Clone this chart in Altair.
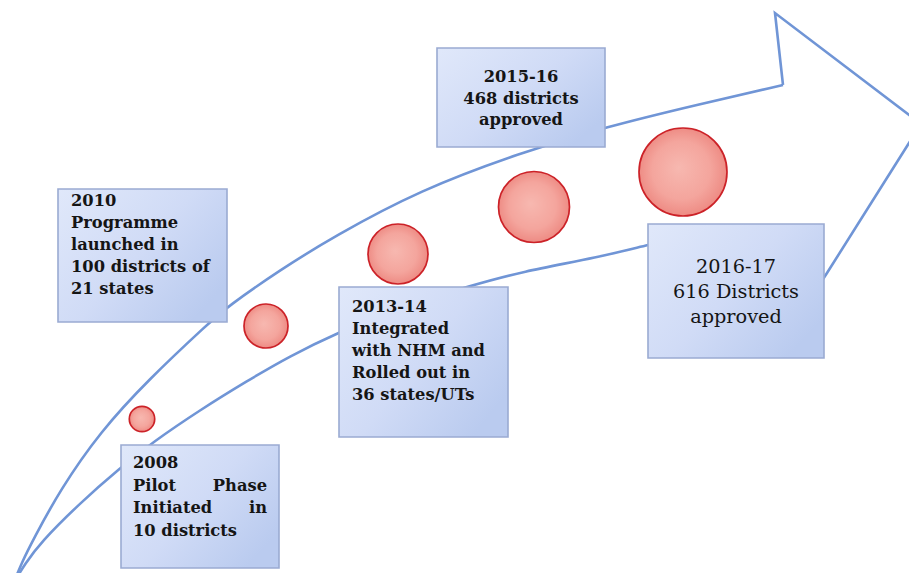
import altair as alt
import pandas as pd

# ---------------- data (page pixel units) ----------------
# milestone boxes
box_year = ["2008", "2010", "2013-14", "2015-16", "2016-17"]
box_x0 = [121, 58, 339, 437, 648]
box_x1 = [279, 227, 508, 605, 824]
box_y0 = [445, 189, 287, 48, 224]
box_y1 = [568, 322, 437, 147, 358]
box_lines = [
    ["2008", "Pilot Phase", "Initiated in", "10 districts"],
    ["2010", "Programme", "launched in", "100 districts of", "21 states"],
    ["2013-14", "Integrated", "with NHM and", "Rolled out in", "36 states/UTs"],
    ["2015-16", "468 districts", "approved"],
    ["2016-17", "616 Districts", "approved"],
]
box_align = ["justify", "left", "left", "center", "center"]
box_bold = [True, True, True, True, False]
box_first_line = [463, 201, 307, 77, 267]
box_line_gap = [22.5, 22, 22, 21.5, 25]
box_pad = [12, 13, 13, 0, 0]

# growing circles
circle_x = [142, 266, 398, 534, 683]
circle_y = [419, 326, 254, 207, 172]
circle_r = [12.7, 22, 30, 35.5, 44]

# arrow outline
upper_x = [14, 22, 33, 60, 100, 148, 210, 227, 280, 333, 420, 520, 605, 700, 783]
upper_y = [582, 562, 540, 490, 432, 380, 322, 307, 270, 237, 190, 153, 127, 104, 85]
lower_x = [14, 25, 40, 80, 120, 153, 200, 247, 290, 337, 400, 473, 520, 600, 647, 700]
lower_y = [582, 564, 543, 503, 468, 442, 410, 381, 356, 333, 307, 285, 272, 257, 245, 233]
head_x = [783, 775, 921, 827, 790]
head_y = [85, 13, 124, 273, 330]

# ---------------- tables ----------------
boxes = pd.DataFrame({"year": box_year, "x0": box_x0, "x1": box_x1,
                      "y0": box_y0, "y1": box_y1})
circles = pd.DataFrame({"x": circle_x, "y": circle_y,
                        "size": [(2 * r) ** 2 for r in circle_r]})
curves = pd.DataFrame({
    "x": upper_x + lower_x,
    "y": upper_y + lower_y,
    "seg": ["upper"] * len(upper_x) + ["lower"] * len(lower_x),
})
head = pd.DataFrame({"x": head_x, "y": head_y, "o": list(range(len(head_x)))})

rows = []
for i, lines in enumerate(box_lines):
    for j, line in enumerate(lines):
        y = box_first_line[i] + j * box_line_gap[i]
        mode = box_align[i]
        words = line.split(" ")
        if mode == "justify" and len(words) > 1 and j < len(lines) - 1:
            rows.append(dict(text=" ".join(words[:-1]), x=box_x0[i] + box_pad[i], y=y,
                             al="left", bold=box_bold[i]))
            rows.append(dict(text=words[-1], x=box_x1[i] - box_pad[i], y=y,
                             al="right", bold=box_bold[i]))
        elif mode == "center":
            rows.append(dict(text=line, x=(box_x0[i] + box_x1[i]) / 2, y=y,
                             al="center", bold=box_bold[i]))
        else:
            rows.append(dict(text=line, x=box_x0[i] + box_pad[i], y=y,
                             al="left", bold=box_bold[i]))
labels = pd.DataFrame(rows)

# ---------------- scales (1 data unit = 1 page pixel) ----------------
W, H = 901, 565
xs = alt.Scale(domain=[8, 8 + W], nice=False, zero=False)
ys = alt.Scale(domain=[8, 8 + H], nice=False, zero=False, reverse=True)

LINE = "#7095d6"

curve_layer = alt.Chart(curves).mark_line(
    color=LINE, strokeWidth=2.6, interpolate="basis"
).encode(
    x=alt.X("x:Q", scale=xs, axis=None),
    y=alt.Y("y:Q", scale=ys, axis=None),
    detail="seg:N",
)

head_layer = alt.Chart(head).mark_line(
    color=LINE, strokeWidth=2.6, strokeJoin="miter"
).encode(
    x=alt.X("x:Q", scale=xs, axis=None),
    y=alt.Y("y:Q", scale=ys, axis=None),
    order="o:Q",
)

circle_fill = alt.RadialGradient(
    gradient="radial",
    stops=[alt.GradientStop(color="#f7b8b0", offset=0),
           alt.GradientStop(color="#f4a59d", offset=0.6),
           alt.GradientStop(color="#ec847d", offset=1)],
    x1=0.45, y1=0.45, r1=0, x2=0.5, y2=0.5, r2=0.55,
)
circle_layer = alt.Chart(circles).mark_point(
    shape="circle", filled=True, fill=circle_fill, stroke="#cc2228",
    strokeWidth=1.7, opacity=1, fillOpacity=1,
).encode(
    x=alt.X("x:Q", scale=xs, axis=None),
    y=alt.Y("y:Q", scale=ys, axis=None),
    size=alt.Size("size:Q", scale=None, legend=None),
)

box_fill = alt.LinearGradient(
    gradient="linear",
    stops=[alt.GradientStop(color="#e0e8fa", offset=0),
           alt.GradientStop(color="#d0dbf6", offset=0.55),
           alt.GradientStop(color="#bacbef", offset=1)],
    x1=0, y1=0, x2=1, y2=0.7,
)
box_layer = alt.Chart(boxes).mark_rect(
    fill=box_fill, stroke="#9aabd2", strokeWidth=1.6
).encode(
    x=alt.X("x0:Q", scale=xs, axis=None),
    x2="x1:Q",
    y=alt.Y("y0:Q", scale=ys, axis=None),
    y2="y1:Q",
)

text_layers = []
for al in ["left", "right", "center"]:
    for bold in [True, False]:
        sub = labels[(labels.al == al) & (labels.bold == bold)]
        if len(sub) == 0:
            continue
        text_layers.append(
            alt.Chart(sub).mark_text(
                align=al, baseline="middle", font="DejaVu Serif",
                fontSize=16.3 if bold else 19.3,
                fontWeight="bold" if bold else "normal",
                color="#151515",
            ).encode(
                x=alt.X("x:Q", scale=xs, axis=None),
                y=alt.Y("y:Q", scale=ys, axis=None),
                text="text:N",
            )
        )

chart = alt.layer(curve_layer, head_layer, circle_layer, box_layer, *text_layers).properties(
    width=W, height=H,
    autosize=alt.AutoSizeParams(type="none"),
    padding=0,
    background="white",
).configure_view(stroke=None)

chart.save("out.html", embed_options={"renderer": "svg", "actions": False})
